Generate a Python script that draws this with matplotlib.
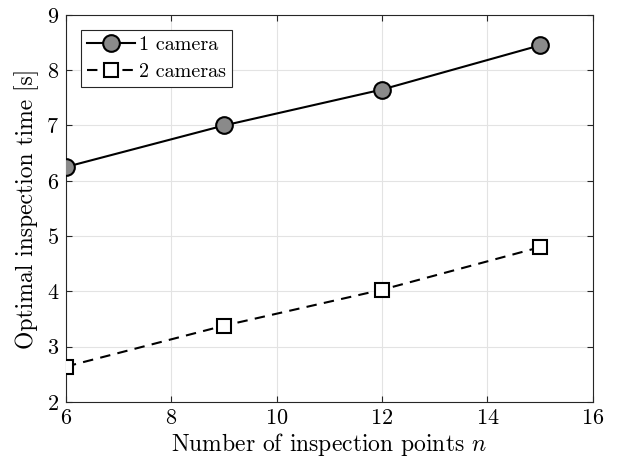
import matplotlib
matplotlib.use("Agg")
import matplotlib.pyplot as plt

plt.rcParams['font.family'] = 'serif'
plt.rcParams['font.serif'] = ['cmr10']
plt.rcParams['mathtext.fontset'] = 'cm'
plt.rcParams['axes.formatter.use_mathtext'] = True
plt.rcParams['axes.unicode_minus'] = False

n_points = [6, 9, 12, 15]
one_camera = [6.25, 7.0, 7.65, 8.45]
two_cameras = [2.64, 3.38, 4.03, 4.80]
x_ticks = [6, 8, 10, 12, 14, 16]
y_ticks = [2, 3, 4, 5, 6, 7, 8, 9]

fig = plt.figure(figsize=(6.22, 4.65), dpi=100)
ax = fig.add_axes([0.106, 0.1355, 0.847, 0.8325])

ax.plot(n_points, one_camera, '-', color='black', lw=1.5, marker='o',
        markersize=12, markerfacecolor='#8a8a8a', markeredgecolor='black',
        markeredgewidth=1.5, label='1 camera', zorder=3)
ax.plot(n_points, two_cameras, '--', color='black', lw=1.5, marker='s',
        markersize=10, markerfacecolor='white', markeredgecolor='black',
        markeredgewidth=1.5, dashes=(5, 3.5), label='2 cameras', zorder=3)

ax.set_xlim(6, 16)
ax.set_ylim(2, 9)
ax.set_xticks(x_ticks)
ax.set_yticks(y_ticks)
ax.grid(True, color='#e3e3e3', lw=0.8)
ax.set_axisbelow(True)
ax.tick_params(direction='in', top=True, right=True, length=4, width=0.8,
               color='#262626', labelsize=16, pad=5)
for s in ax.spines.values():
    s.set_color('#262626')
    s.set_linewidth(0.8)

ax.set_xlabel(r'Number of inspection points $n$', fontsize=17, labelpad=2)
ax.set_ylabel('Optimal inspection time [s]', fontsize=17, labelpad=5)

leg = ax.legend(loc='upper left', fontsize=14.5, frameon=True, fancybox=False,
                edgecolor='#262626', framealpha=1, handlelength=2.4,
                borderpad=0.3, labelspacing=0.45, handletextpad=0.2,
                bbox_to_anchor=(0.028, 0.961), borderaxespad=0)
leg.get_frame().set_linewidth(0.8)

fig.savefig('out.png', dpi=100)
